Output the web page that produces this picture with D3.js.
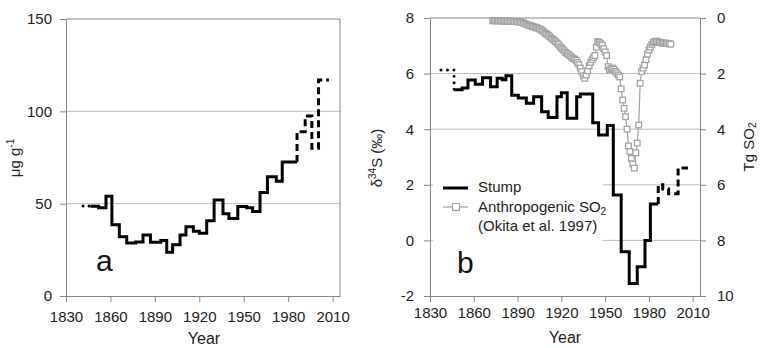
<!DOCTYPE html>
<html>
<head>
<meta charset="utf-8">
<script src="https://cdn.jsdelivr.net/npm/d3@7"></script>
<style>
  body { margin: 0; background: #fff; }
  svg { display: block; font-family: "Liberation Sans", Arial, sans-serif; }
  .tick text { fill: #222; font-size: 15px; }
  .axis path, .axis line { stroke: #858585; }
</style>
</head>
<body>
<svg id="chart" width="760" height="348"></svg>
<script>
// ---- panel a: concentration (ug g-1), step series, edges have one more entry than values
const aDotEdges = [1841.5, 1846.5];
const aDotValues = [48.8];
const aSolidEdges = [1846.5, 1852, 1857, 1861, 1866, 1871, 1877, 1882, 1887, 1894, 1898, 1902, 1907,
  1911, 1916, 1920, 1925, 1930, 1936, 1940, 1946, 1952, 1956, 1961, 1966, 1972, 1976, 1986];
const aSolidValues = [48.6, 47.8, 54, 38.6, 32.1, 28.7, 29.3, 33, 29.1, 30, 23.7, 27.8, 33,
  37.5, 35, 34, 40.8, 52, 44.6, 42, 48.4, 47.8, 45.8, 56, 64.6, 62.2, 72.5];
const aDashEdges = [1986, 1991.5, 1996, 2000.5, 2007.5];
const aDashValues = [89, 97.5, 80, 117];

// ---- panel b: stump d34S (permil)
const bDotEdges = [1837.5, 1846.5];
const bDotValues = [6.13];
const bSolidEdges = [1846.5, 1852, 1856, 1861, 1866, 1871.5, 1876, 1879.5, 1882, 1886, 1890.5, 1896,
  1901, 1906.5, 1911, 1917, 1920, 1924, 1930.5, 1933, 1941.5, 1945.5, 1951.5, 1955.6, 1961, 1966.5,
  1972, 1977.3, 1981, 1986.4];
const bSolidValues = [5.42, 5.48, 5.77, 5.62, 5.85, 5.53, 5.83, 5.78, 5.92, 5.22, 5.12, 4.93,
  5.17, 4.63, 4.42, 5.17, 5.31, 4.39, 5.17, 5.27, 4.23, 3.79, 4.13, 1.63, -0.41, -1.55,
  -0.95, 0.0, 1.31];
const bDashEdges = [1986.4, 1989.5, 1993.5, 2000, 2006.7];
const bDashValues = [2.0, 1.85, 1.68, 2.6];

// ---- panel b: anthropogenic SO2 (Tg), one value per year from so2FirstYear
const so2FirstYear = 1873;
const so2Values = [
  0.10, 0.10, 0.10, 0.10, 0.10, 0.10, 0.10,                   // 1873-1879
  0.11, 0.11, 0.11, 0.11, 0.12, 0.12, 0.12, 0.12, 0.13, 0.13, // 1880s
  0.13, 0.14, 0.15, 0.16, 0.18, 0.20, 0.22, 0.25, 0.27, 0.28, // 1890s
  0.30, 0.32, 0.33, 0.35, 0.37, 0.39, 0.42, 0.46, 0.50, 0.55, // 1900s
  0.58, 0.62, 0.67, 0.72, 0.76, 0.80, 0.85, 0.90, 0.95, 1.03, // 1910s
  1.08, 1.12, 1.18, 1.24, 1.28, 1.32, 1.36, 1.40, 1.45, 1.48, // 1920s
  1.52, 1.60, 1.68, 1.80, 1.93, 2.08, 2.17, 2.05, 1.90, 1.72, // 1930s
  1.60, 1.50, 1.42, 1.35, 1.05, 0.85, 0.88, 0.93, 0.98, 1.10, // 1940s
  1.22, 1.35, 1.75, 1.87, 1.82, 1.80, 1.85, 1.92, 1.98, 2.05, // 1950s
  2.12, 2.55, 2.95, 3.25, 3.55, 4.00, 4.60, 4.80, 5.05, 5.25, // 1960s
  5.40, 4.85, 4.50, 3.85, 2.35, 1.93, 1.80, 1.69, 1.50, 1.30, // 1970s
  1.15, 1.05, 0.95, 0.88, 0.85, 0.83, 0.85, 0.88, 0.88, 0.90, // 1980s
  0.90, 0.90, 0.92, 0.92, 0.93, 0.94                          // 1990-1995
];

const yearTicks = [1830, 1860, 1890, 1920, 1950, 1980, 2010];
const aTicks = [0, 50, 100, 150];
const bLeftTicks = [-2, 0, 2, 4, 6, 8];
const bRightTicks = [0, 2, 4, 6, 8, 10];

const svg = d3.select('#chart');
svg.append('rect').attr('width', 760).attr('height', 348).attr('fill', '#fff');

const GRID = '#bdbdbd';
const FRAME = '#858585';
const SO2_COLOR = '#a3a3a3';
const plainNum = d => String(d); // hyphen minus, like the original

// turn step edges + values into points for curveStepAfter
function stepPts(edges, values) {
  const pts = values.map((v, i) => [edges[i], v]);
  pts.push([edges[edges.length - 1], values[values.length - 1]]);
  return pts;
}

function drawStep(g, x, y, pts, dash, cap) {
  const line = d3.line()
    .x(d => x(d[0]))
    .y(d => y(d[1]))
    .curve(d3.curveStepAfter);
  g.append('path')
    .attr('d', line(pts))
    .attr('fill', 'none')
    .attr('stroke', '#000')
    .attr('stroke-width', 3)
    .attr('stroke-linejoin', 'miter')
    .attr('stroke-linecap', cap || 'butt')
    .attr('stroke-dasharray', dash || null);
}

// ================= panel a =================
{
  const x = d3.scaleLinear().domain([1830, 2015]).range([66, 340]);
  const y = d3.scaleLinear().domain([0, 150]).range([296, 19]);
  const g = svg.append('g');

  g.selectAll('.grid').data([50, 100]).join('line')
    .attr('x1', 66).attr('x2', 340)
    .attr('y1', d => y(d)).attr('y2', d => y(d))
    .attr('stroke', GRID);

  // frame top + right
  g.append('path')
    .attr('d', `M66,${y(150)}H340V${y(0)}`)
    .attr('fill', 'none').attr('stroke', FRAME);

  drawStep(g, x, y, stepPts(aDotEdges, aDotValues), '0,6', 'round');
  drawStep(g, x, y, stepPts(aSolidEdges, aSolidValues));
  drawStep(g, x, y,
    [[aDashEdges[0], aSolidValues[aSolidValues.length - 1]]].concat(stepPts(aDashEdges, aDashValues)),
    '7,4');

  g.append('g').attr('class', 'axis')
    .attr('transform', 'translate(0,296)')
    .call(d3.axisBottom(x).tickValues(yearTicks).tickFormat(d3.format('d'))
      .tickSize(6).tickSizeOuter(0).tickPadding(9));

  g.append('g').attr('class', 'axis')
    .attr('transform', 'translate(66,0)')
    .call(d3.axisLeft(y).tickValues(aTicks).tickFormat(plainNum)
      .tickSize(6).tickSizeOuter(0).tickPadding(8));

  g.append('text')
    .attr('x', 204).attr('y', 344)
    .attr('text-anchor', 'middle').attr('font-size', 16).attr('fill', '#222')
    .text('Year');

  const yl = g.append('text')
    .attr('transform', 'translate(20,158) rotate(-90)')
    .attr('text-anchor', 'middle').attr('font-size', 15).attr('fill', '#222');
  yl.append('tspan').text('\u03bcg g');
  yl.append('tspan').attr('font-size', 10).attr('dy', -6).text('-1');

  g.append('text')
    .attr('x', 96).attr('y', 271)
    .attr('font-size', 30).attr('fill', '#111')
    .text('a');
}

// ================= panel b =================
{
  const x = d3.scaleLinear().domain([1830, 2015]).range([430, 700]);
  const yL = d3.scaleLinear().domain([-2, 8]).range([296, 18]);
  const yR = d3.scaleLinear().domain([0, 10]).range([18, 296]);
  const g = svg.append('g');

  g.selectAll('.grid').data([6, 4, 2, 0]).join('line')
    .attr('x1', 430).attr('x2', 700)
    .attr('y1', d => yL(d)).attr('y2', d => yL(d))
    .attr('stroke', GRID);

  g.append('line')
    .attr('x1', 430).attr('x2', 700).attr('y1', yL(8)).attr('y2', yL(8))
    .attr('stroke', FRAME);

  // legend background hides the grid
  g.append('rect')
    .attr('x', 433).attr('y', 172).attr('width', 170).attr('height', 74)
    .attr('fill', '#fff');

  // SO2 line + hollow squares, on the reversed right axis
  const so2 = so2Values.map((v, i) => [so2FirstYear + i, v]);
  g.append('path')
    .attr('d', d3.line().x(d => x(d[0])).y(d => yR(d[1]))(so2))
    .attr('fill', 'none').attr('stroke', SO2_COLOR).attr('stroke-width', 1.2);
  g.selectAll('.so2').data(so2).join('rect')
    .attr('x', d => x(d[0]) - 2.8).attr('y', d => yR(d[1]) - 2.8)
    .attr('width', 5.6).attr('height', 5.6)
    .attr('fill', '#fff').attr('stroke', SO2_COLOR).attr('stroke-width', 1.3);

  drawStep(g, x, yL, stepPts(bDotEdges, bDotValues).concat([[bDotEdges[1], bSolidValues[0]]]), '0,6.5', 'round');
  drawStep(g, x, yL, stepPts(bSolidEdges, bSolidValues));
  drawStep(g, x, yL,
    [[bDashEdges[0], bSolidValues[bSolidValues.length - 1]]].concat(stepPts(bDashEdges, bDashValues)),
    '7,4');

  g.append('g').attr('class', 'axis')
    .attr('transform', 'translate(0,296)')
    .call(d3.axisBottom(x).tickValues(yearTicks).tickFormat(d3.format('d'))
      .tickSize(6).tickSizeOuter(0).tickPadding(5));

  g.append('g').attr('class', 'axis')
    .attr('transform', 'translate(430,0)')
    .call(d3.axisLeft(yL).tickValues(bLeftTicks).tickFormat(plainNum)
      .tickSize(6).tickSizeOuter(0).tickPadding(10));

  g.append('g').attr('class', 'axis')
    .attr('transform', 'translate(700,0)')
    .call(d3.axisRight(yR).tickValues(bRightTicks).tickFormat(plainNum)
      .tickSize(6).tickSizeOuter(0).tickPadding(11));

  g.append('text')
    .attr('x', 565).attr('y', 343)
    .attr('text-anchor', 'middle').attr('font-size', 16).attr('fill', '#222')
    .text('Year');

  const ylab = g.append('text')
    .attr('transform', 'translate(382,158) rotate(-90)')
    .attr('text-anchor', 'middle').attr('font-size', 15).attr('fill', '#222');
  ylab.append('tspan').text('\u03b4');
  ylab.append('tspan').attr('font-size', 10).attr('dy', -6).text('34');
  ylab.append('tspan').attr('dy', 6).text('S (\u2030)');

  const yrlab = g.append('text')
    .attr('transform', 'translate(754,147) rotate(-90)')
    .attr('text-anchor', 'middle').attr('font-size', 15).attr('fill', '#222');
  yrlab.append('tspan').text('Tg SO');
  yrlab.append('tspan').attr('font-size', 10).attr('dy', 2).text('2');

  g.append('text')
    .attr('x', 457).attr('y', 273)
    .attr('font-size', 30).attr('fill', '#111')
    .text('b');

  // legend
  const lg = g.append('g');
  lg.append('line')
    .attr('x1', 443).attr('x2', 468).attr('y1', 188).attr('y2', 188)
    .attr('stroke', '#000').attr('stroke-width', 3);
  lg.append('text').attr('x', 478).attr('y', 192)
    .attr('font-size', 15).attr('fill', '#222').text('Stump');
  lg.append('line')
    .attr('x1', 443).attr('x2', 468).attr('y1', 207).attr('y2', 207)
    .attr('stroke', SO2_COLOR).attr('stroke-width', 1.2);
  lg.append('rect')
    .attr('x', 452.5).attr('y', 203.5).attr('width', 7).attr('height', 7)
    .attr('fill', '#fff').attr('stroke', SO2_COLOR).attr('stroke-width', 1.2);
  const t2 = lg.append('text').attr('x', 478).attr('y', 212)
    .attr('font-size', 15).attr('fill', '#222');
  t2.append('tspan').text('Anthropogenic SO');
  t2.append('tspan').attr('font-size', 10).attr('dy', 3).text('2');
  lg.append('text').attr('x', 478).attr('y', 231)
    .attr('font-size', 15).attr('fill', '#222').text('(Okita et al. 1997)');
}
</script>
</body>
</html>
